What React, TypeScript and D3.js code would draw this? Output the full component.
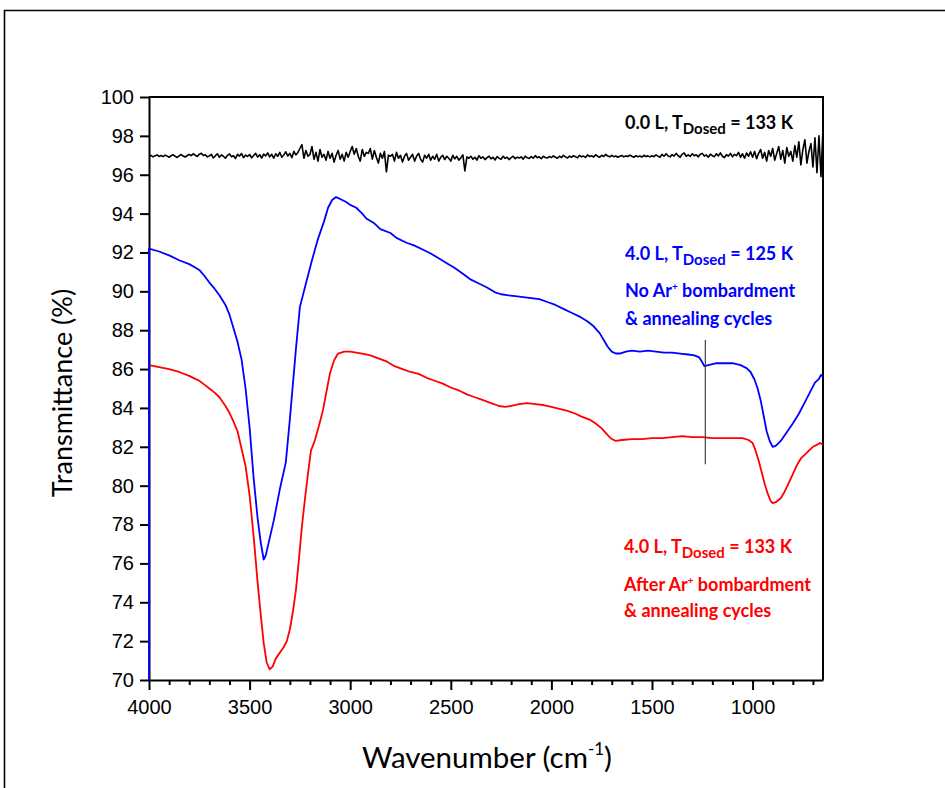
import React, { useEffect, useRef } from "react";
import * as d3 from "d3";

const W = 945;
const H = 788;

const xDomain: [number, number] = [4000, 650];
const yDomain: [number, number] = [70, 100];
const xMajorTicks = [4000, 3500, 3000, 2500, 2000, 1500, 1000];
const xMinorTicks = [
  3900, 3800, 3700, 3600, 3400, 3300, 3200, 3100, 2900, 2800, 2700, 2600, 2400, 2300, 2200, 2100,
  1900, 1800, 1700, 1600, 1400, 1300, 1200, 1100, 900, 800, 700,
];
const yTicks = [70, 72, 74, 76, 78, 80, 82, 84, 86, 88, 90, 92, 94, 96, 98, 100];

// Blue: 4.0 L, T_Dosed = 125 K, no Ar+ bombardment
const blueSpectrum: [number, number][] = [
  [4000, 70], [4000, 92.2], [3950, 92.05], [3900, 91.85], [3850, 91.6], [3800, 91.4], [3775, 91.25],
  [3750, 91.1], [3725, 90.8], [3700, 90.45], [3675, 90.15], [3650, 89.8], [3620, 89.3], [3600, 88.8],
  [3580, 88.1], [3560, 87.4], [3540, 86.5],
  [3520, 85.0], [3500, 83.0], [3480, 80.4], [3460, 78.3], [3445, 77.1], [3430, 76.2], [3420, 76.4],
  [3400, 77.3], [3380, 78.2], [3350, 79.8], [3320, 81.2], [3300, 83.4], [3285, 85.2], [3270, 87.0],
  [3250, 89.2], [3220, 90.4], [3190, 91.6], [3160, 92.7], [3130, 93.6], [3110, 94.3], [3090, 94.7],
  [3070, 94.85], [3050, 94.75], [3020, 94.6], [3000, 94.45], [2970, 94.3], [2940, 94.0], [2920, 93.75],
  [2880, 93.5], [2850, 93.2], [2800, 93.0], [2770, 92.75], [2720, 92.5], [2680, 92.35], [2640, 92.15],
  [2600, 91.95], [2560, 91.7], [2520, 91.45], [2480, 91.2], [2440, 90.9], [2400, 90.6], [2360, 90.4],
  [2320, 90.2], [2280, 89.95], [2250, 89.85], [2220, 89.8], [2180, 89.75], [2140, 89.7], [2100, 89.65],
  [2060, 89.6], [2020, 89.45], [1980, 89.3], [1940, 89.1], [1900, 88.9], [1860, 88.7], [1820, 88.45],
  [1790, 88.2], [1760, 87.85], [1740, 87.5], [1720, 87.15], [1700, 86.9], [1680, 86.8], [1660, 86.8],
  [1630, 86.9], [1600, 86.95], [1560, 86.9], [1520, 86.95], [1480, 86.9], [1440, 86.85], [1400, 86.85],
  [1360, 86.8], [1320, 86.75], [1290, 86.7], [1265, 86.6], [1250, 86.35], [1240, 86.15], [1220, 86.2],
  [1180, 86.3], [1140, 86.3], [1100, 86.3], [1060, 86.2], [1030, 86.05], [1010, 85.85], [990, 85.45],
  [975, 85.0], [960, 84.4], [945, 83.6], [930, 82.8], [915, 82.3], [900, 82.0], [885, 82.05],
  [860, 82.3], [830, 82.75], [800, 83.2], [770, 83.7], [740, 84.3], [710, 84.9], [690, 85.3],
  [670, 85.5], [660, 85.7], [650, 85.6],
];

// Red: 4.0 L, T_Dosed = 133 K, after Ar+ bombardment
const redSpectrum: [number, number][] = [
  [4000, 86.2], [3950, 86.1], [3900, 86.0], [3850, 85.85], [3800, 85.65], [3775, 85.52], [3750, 85.4],
  [3725, 85.2], [3700, 85.0], [3675, 84.8], [3650, 84.55], [3620, 84.1], [3600, 83.75], [3580, 83.3],
  [3560, 82.8], [3540, 81.9], [3520, 81.0],
  [3500, 79.5], [3480, 77.4], [3460, 75.0], [3445, 73.4], [3430, 71.9], [3415, 70.9], [3400, 70.55],
  [3385, 70.7], [3370, 71.1], [3350, 71.4], [3330, 71.7], [3315, 72.0], [3300, 72.6], [3285, 73.5],
  [3270, 74.6], [3255, 76.2], [3240, 77.9], [3225, 79.3], [3210, 80.6], [3195, 81.8], [3175, 82.35],
  [3155, 83.1], [3135, 83.9], [3115, 85.0], [3100, 85.8], [3080, 86.45], [3060, 86.8], [3030, 86.9],
  [3000, 86.9], [2970, 86.85], [2940, 86.8], [2900, 86.7], [2860, 86.55], [2820, 86.4], [2780, 86.15],
  [2740, 86.0], [2700, 85.85], [2660, 85.75], [2620, 85.55], [2580, 85.4], [2540, 85.25], [2500, 85.05],
  [2460, 84.9], [2420, 84.7], [2380, 84.55], [2340, 84.4], [2300, 84.25], [2260, 84.1], [2230, 84.05],
  [2200, 84.1], [2160, 84.2], [2120, 84.25], [2080, 84.2], [2040, 84.15], [2000, 84.05], [1960, 83.95],
  [1920, 83.85], [1880, 83.7], [1850, 83.55], [1810, 83.4], [1780, 83.2], [1750, 82.95], [1720, 82.6],
  [1700, 82.4], [1680, 82.3], [1650, 82.35], [1600, 82.4], [1550, 82.4], [1500, 82.45], [1450, 82.45],
  [1400, 82.5], [1350, 82.55], [1300, 82.5], [1250, 82.5], [1200, 82.45], [1150, 82.45], [1100, 82.45],
  [1050, 82.45], [1020, 82.35], [1000, 82.2], [985, 81.8], [970, 81.3], [955, 80.7], [940, 80.1],
  [925, 79.6], [910, 79.2], [900, 79.1], [885, 79.15], [860, 79.35], [840, 79.7], [820, 80.15],
  [800, 80.6], [780, 81.05], [760, 81.4], [740, 81.6], [720, 81.8], [700, 82.0], [680, 82.1],
  [665, 82.2], [650, 82.1],
];

// Black: 0.0 L reference, sampled every 10 cm-1 from 4000 down to 650
const blackStart = 4000;
const blackStep = 10;
const blackValues = [
  96.95, 97.0, 96.92, 96.98, 97.02, 96.94, 96.99, 96.93, 97.01, 96.96,
  96.9, 96.98, 97.03, 96.95, 96.89, 96.97, 97.04, 96.96, 96.91, 96.99,
  97.05, 96.98, 97.08, 97.0, 96.94, 97.06, 97.1, 96.99, 97.03, 96.92,
  96.97, 97.05, 96.86, 96.98, 97.08, 96.9, 97.02, 96.95, 96.85, 97.0,
  97.07, 96.93, 96.98, 96.84, 97.05, 96.96, 97.09, 96.88, 97.01, 96.94,
  97.04, 96.87, 96.99, 97.1, 96.91, 97.03, 96.86, 97.06, 96.97, 97.12,
  96.92, 97.05, 96.85, 97.08, 96.95, 97.15, 96.9, 97.02, 97.18, 96.96,
  97.1, 96.88, 97.2, 97.02, 97.15, 97.35, 97.55, 96.85, 97.25, 96.95,
  97.05, 97.45, 96.8, 97.15, 96.7, 97.3, 96.9, 97.05, 96.75, 97.2,
  96.85, 97.1, 96.65, 97.0, 97.25, 96.8, 97.05, 96.7, 97.15, 96.9,
  97.2, 97.45, 97.05, 97.35, 96.95, 96.7, 97.3, 96.95, 97.15, 97.1,
  97.35, 96.8, 97.25, 96.9, 96.6, 97.1, 96.85, 97.2, 96.15, 97.0,
  96.95, 97.05, 96.7, 97.15, 96.85, 97.0, 96.65, 96.95, 97.1, 96.75,
  96.9, 97.05, 96.7, 96.95, 97.1, 96.8, 96.65, 97.0, 96.85, 97.05,
  96.75, 96.95, 96.8, 97.05, 96.7, 96.9, 97.0, 96.78, 96.95, 96.85,
  96.7, 97.0, 96.82, 96.95, 96.75, 96.88, 97.02, 96.2, 96.92, 96.85,
  96.95, 96.8, 96.9, 96.75, 96.98, 96.85, 96.92, 96.78, 96.88, 96.95,
  96.82, 96.9, 96.76, 96.93, 96.85, 96.8, 96.95, 96.84, 96.9, 96.78,
  96.88, 96.95, 96.83, 96.9, 96.86, 96.92, 96.8, 96.96, 96.87, 96.84,
  96.93, 96.85, 96.98, 96.88, 96.92, 96.82, 96.95, 96.89, 96.86, 96.94,
  96.88, 96.97, 96.9, 96.85, 96.95, 96.88, 97.0, 96.92, 96.86, 96.96,
  96.9, 96.98, 96.93, 96.87, 97.0, 96.92, 96.96, 96.89, 97.02, 96.94,
  96.98, 96.91, 97.03, 96.95, 96.9, 97.0, 96.94, 97.05, 96.96, 96.92,
  97.0, 96.93, 96.97, 96.9, 96.95, 96.99, 96.92, 96.97, 96.94, 97.01,
  96.95, 96.9, 96.98, 96.93, 96.96, 96.91, 97.0, 96.94, 96.97, 96.92,
  96.98, 96.93, 97.02, 96.96, 96.9, 97.05, 96.95, 97.08, 96.97, 96.92,
  97.04, 96.96, 97.1, 96.98, 96.9, 97.06, 97.12, 96.95, 97.02, 96.94,
  97.08, 96.98, 97.03, 96.92, 97.05, 97.1, 96.96, 97.02, 96.9, 97.06,
  96.98, 96.93, 97.08, 96.97, 97.12, 96.95, 96.88, 97.03, 96.96, 97.1,
  96.92, 97.05, 96.98, 97.15, 96.9, 97.08, 96.85, 97.12, 96.95, 97.18,
  96.9, 97.2, 96.82, 97.1, 97.3, 96.85, 97.15, 96.7, 97.25, 96.95,
  97.35, 96.75, 97.1, 97.45, 96.8, 97.25, 96.6, 97.4, 96.95, 97.2,
  96.7, 97.5, 96.9, 97.7, 96.5, 97.3, 97.8, 96.6, 97.2, 97.6,
  96.4, 97.9, 96.1, 98.0, 95.9, 98.4,
];

const markerWavenumber = 1235;
const markerRange: [number, number] = [81.1, 87.5];

const M = { left: 149, right: 823, top: 97, bottom: 680 };

export default function App() {
  const axRef = useRef<SVGGElement | null>(null);

  const x = d3.scaleLinear().domain(xDomain).range([M.left, M.right]);
  const y = d3.scaleLinear().domain(yDomain).range([M.bottom, M.top]);
  const line = d3
    .line<[number, number]>()
    .x((d) => x(d[0]))
    .y((d) => y(d[1]));

  const blackSpectrum: [number, number][] = blackValues.map((v, i) => [blackStart - i * blackStep, v]);

  useEffect(() => {
    if (!axRef.current) return;
    const g = d3.select(axRef.current);
    g.selectAll("*").remove();

    const tickFont = "Liberation Sans, Arial, sans-serif";

    const xMinor = g
      .append("g")
      .attr("transform", `translate(0,${M.bottom})`)
      .call(d3.axisBottom(x).tickValues(xMinorTicks).tickSize(5).tickFormat(() => ""));
    xMinor.select(".domain").remove();
    xMinor.selectAll("line").attr("stroke-width", 2);

    const xMajor = g
      .append("g")
      .attr("transform", `translate(0,${M.bottom})`)
      .call(d3.axisBottom(x).tickValues(xMajorTicks).tickSize(10).tickSizeOuter(0).tickPadding(10).tickFormat(d3.format("d")));
    xMajor.select(".domain").attr("stroke-width", 2);
    xMajor.selectAll("line").attr("stroke-width", 2);
    xMajor.selectAll("text").attr("font-family", tickFont).attr("font-size", 20).attr("fill", "#000");

    const yAx = g
      .append("g")
      .attr("transform", `translate(${M.left},0)`)
      .call(d3.axisLeft(y).tickValues(yTicks).tickSize(9).tickSizeOuter(0).tickPadding(6).tickFormat(d3.format("d")));
    yAx.select(".domain").attr("stroke-width", 2);
    yAx.selectAll("line").attr("stroke-width", 2);
    yAx.selectAll("text").attr("font-family", tickFont).attr("font-size", 20).attr("fill", "#000");

    g.append("path")
      .attr("d", `M${M.left},${M.top}H${M.right}V${M.bottom}`)
      .attr("fill", "none")
      .attr("stroke", "#000")
      .attr("stroke-width", 2);
  }, []);

  const annFont = "Lato, 'Open Sans', sans-serif";
  const sub = (t: string) => (
    <>
      <tspan dy={5} fontSize={15}>
        {t}
      </tspan>
      <tspan dy={-5}> </tspan>
    </>
  );

  return (
    <svg
      width={W}
      height={H}
      viewBox={`0 0 ${W} ${H}`}
      style={{ position: "absolute", left: 0, top: 0, display: "block", background: "#fff" }}
    >
      <rect x={0} y={0} width={W} height={H} fill="#fff" />
      <path d={`M4.5,${H}V10.5H${W}`} fill="none" stroke="#000" strokeWidth={1.6} />

      <g ref={axRef} />

      <path d={line(blackSpectrum) || ""} fill="none" stroke="#000" strokeWidth={1.6} strokeLinejoin="round" />
      <path d={line(redSpectrum) || ""} fill="none" stroke="#ff0000" strokeWidth={1.8} strokeLinejoin="round" />
      <path d={line(blueSpectrum) || ""} fill="none" stroke="#0000ff" strokeWidth={1.8} strokeLinejoin="round" />

      <line
        x1={x(markerWavenumber)}
        x2={x(markerWavenumber)}
        y1={y(markerRange[1])}
        y2={y(markerRange[0])}
        stroke="#333"
        strokeWidth={1.1}
      />

      <g fontFamily={annFont} fontWeight={700} fontSize={18}>
        <text x={625} y={129} fill="#000">
          0.0 L, T{sub("Dosed")}= 133 K
        </text>

        <text x={625} y={260} fill="#0000ff">
          4.0 L, T{sub("Dosed")}= 125 K
        </text>
        <text x={625} y={297} fill="#0000ff">
          No Ar<tspan dy={-7} fontSize={10}>+</tspan>
          <tspan dy={7}> bombardment</tspan>
        </text>
        <text x={625} y={325} fill="#0000ff">
          &amp; annealing cycles
        </text>

        <text x={624} y={553} fill="#ff0000">
          4.0 L, T{sub("Dosed")}= 133 K
        </text>
        <text x={624} y={591} fill="#ff0000">
          After Ar<tspan dy={-7} fontSize={10}>+</tspan>
          <tspan dy={7}> bombardment</tspan>
        </text>
        <text x={624} y={617} fill="#ff0000">
          &amp; annealing cycles
        </text>
      </g>

      <text
        transform={`translate(72,393) rotate(-90)`}
        textAnchor="middle"
        fontFamily={annFont}
        fontSize={27}
        fill="#000"
      >
        Transmittance (%)
      </text>

      <text x={487} y={768} textAnchor="middle" fontFamily={annFont} fontSize={29.5} fill="#000">
        Wavenumber (cm<tspan dy={-13} fontSize={17}>-1</tspan>
        <tspan dy={13}>)</tspan>
      </text>
    </svg>
  );
}
